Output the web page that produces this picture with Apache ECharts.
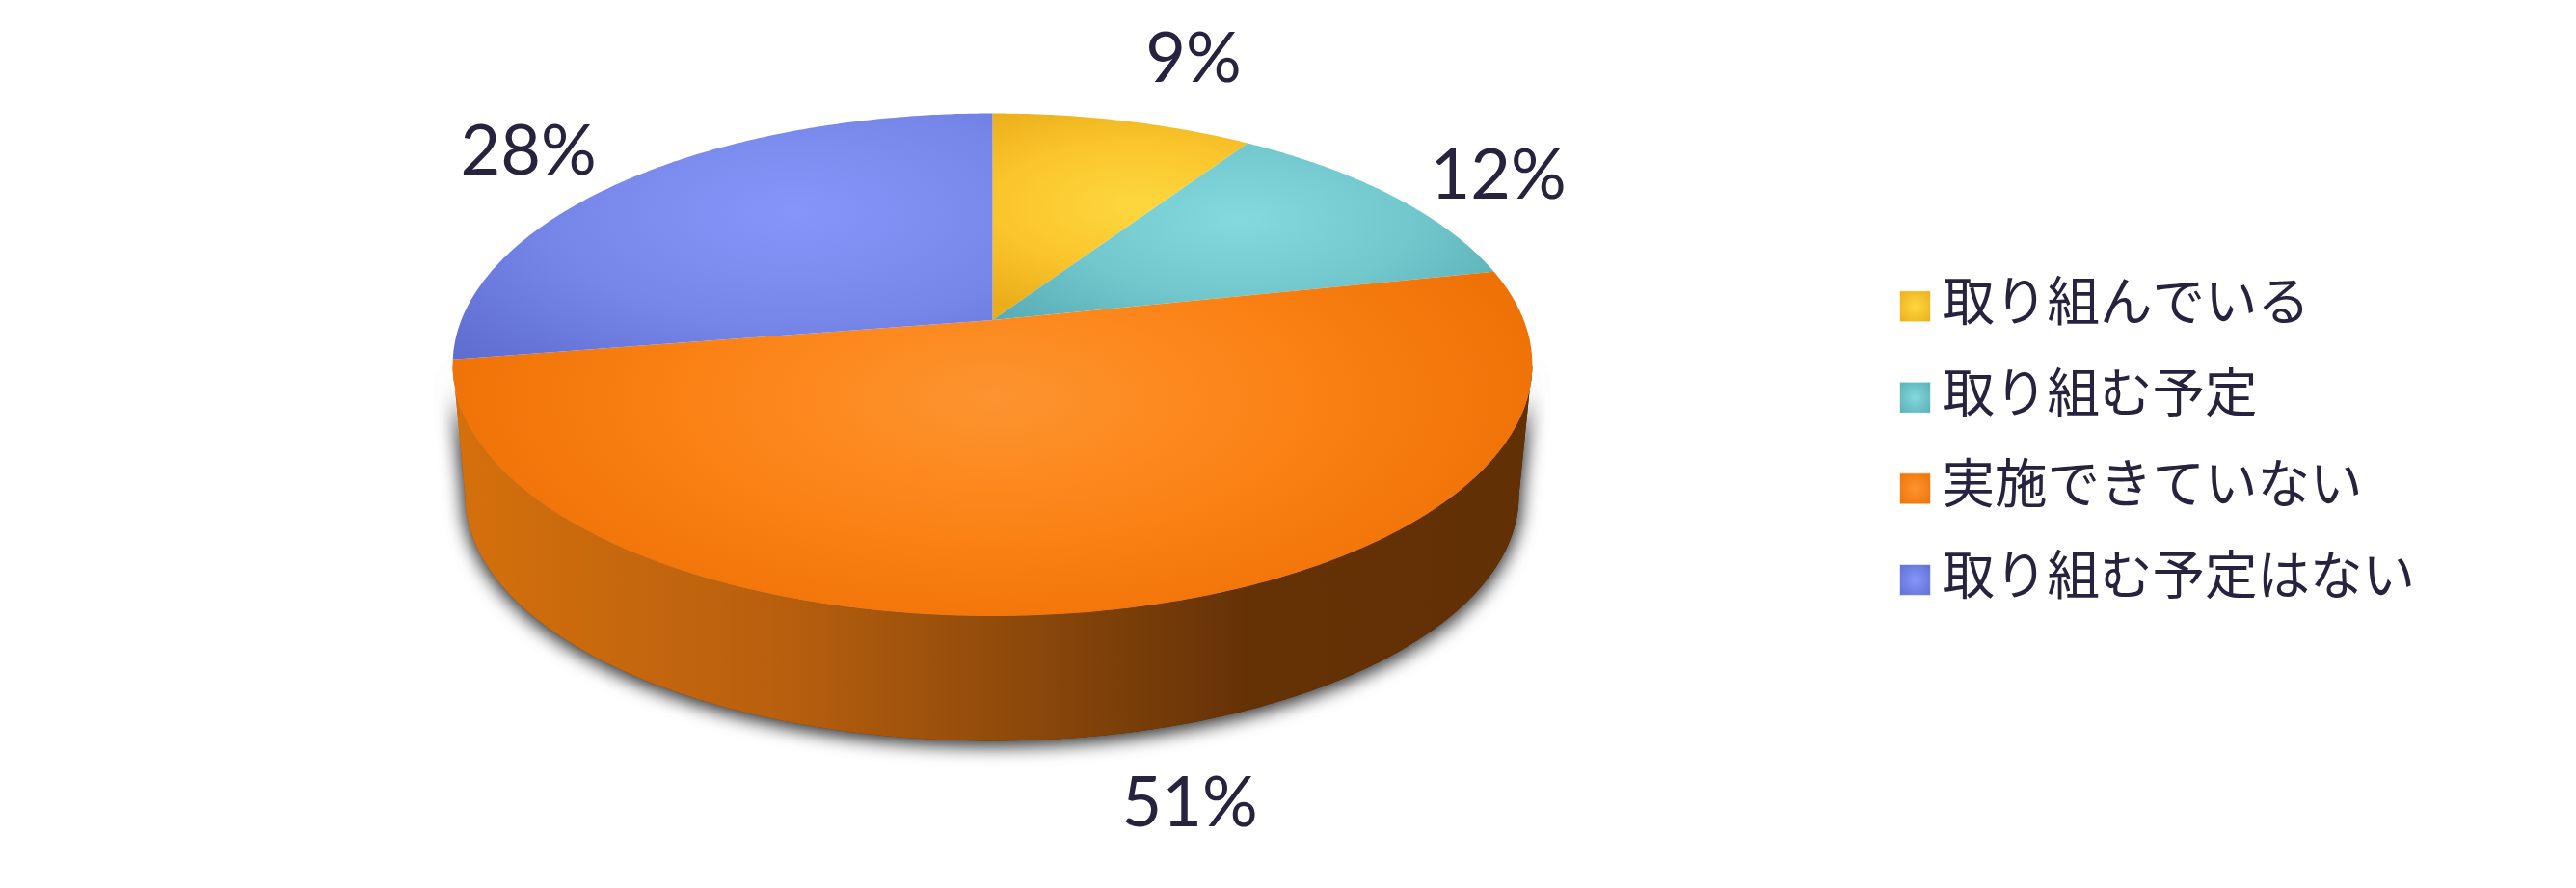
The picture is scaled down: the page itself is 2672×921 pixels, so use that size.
<!DOCTYPE html>
<html><head><meta charset="utf-8">
<style>html,body{margin:0;padding:0;background:#fff}#c{width:2672px;height:921px}</style>
<script src="https://cdn.jsdelivr.net/npm/echarts@6/dist/echarts.min.js"></script>
</head><body><div id="c"></div>
<script>
// ---- data ----
const categories = ['取り組んでいる', '取り組む予定', '実施できていない', '取り組む予定はない'];
const shares = [9.3, 12.4, 50.8, 27.5];
const shownPercents = ['9%', '12%', '51%', '28%'];

// ---- styling ----
const inkColor = '#27233f';
const topStops = [
  ['#fdd73f', '#fbc52c', '#eaae1a'],
  ['#83d9de', '#72c7cd', '#59adb4'],
  ['#fd942f', '#fb8114', '#ee7106'],
  ['#8695f9', '#7686e8', '#5f6ed0']
];
const glowCentres = [[1178, 213], [1286, 227], [1030, 413], [825, 220]];
const glowRadii = [260, 330, 590, 470];
const labelCentres = [[1238, 62], [1554, 183], [1234, 834], [548, 158]];

// ---- projection of the disc ----
const k = -0.1774, aspect = 2.2;
const topDisc = {x: 1029.5, y: 332, a: 551, b: 252.5};
const baseDisc = {x: 1029, y: 468.9, a: 537.8, b: 246.4};
function project(d, deg) {
  const t = deg * Math.PI / 180, u = Math.sin(t), v = -Math.cos(t), w = 1 + k * v;
  return [d.x + d.a * u / w, d.y + d.b * v / w];
}
function arc(d, from, to) {
  const pts = [], n = Math.max(2, Math.ceil(Math.abs(to - from) * 2));
  for (let i = 0; i <= n; i++) pts.push(project(d, from + (to - from) * i / n));
  return pts;
}
const total = shares.reduce((a, b) => a + b, 0);
const starts = shares.map((_, i) => shares.slice(0, i).reduce((a, b) => a + b, 0) / total * 360);
const silhouetteR = Math.acos(k) * 180 / Math.PI, silhouetteL = 360 - silhouetteR;

function topRender(idx) {
  return function (params, api) {
    const start = starts[idx], end = start + api.value(0) / total * 360;
    const [gx, gy] = glowCentres[idx];
    const pts = [[topDisc.x, topDisc.y], ...arc(topDisc, start, end)];
    const local = pts.map(p => [p[0] - gx, (p[1] - gy) * aspect]);
    const s = topStops[idx];
    return {
      type: 'group', children: [
        {
          type: 'polygon', x: gx, y: gy, scaleY: 1 / aspect, silent: true,
          shape: {points: local},
          style: {
            fill: new echarts.graphic.RadialGradient(0, 0, glowRadii[idx], [
              {offset: 0, color: s[0]}, {offset: 0.55, color: s[1]}, {offset: 1, color: s[2]}
            ], true)
          }
        },
        {
          type: 'text', silent: true, x: labelCentres[idx][0], y: labelCentres[idx][1],
          style: {
            text: shownPercents[idx], font: '400 72px Lato', fill: inkColor,
            align: 'center', verticalAlign: 'middle'
          }
        }
      ]
    };
  };
}
function wallRender(params, api) {
  const idx = params.dataIndex;
  const start = Math.max(starts[idx], silhouetteR);
  const end = Math.min(starts[idx] + api.value(0) / total * 360, silhouetteL);
  if (end <= start) return null;
  const pts = arc(topDisc, start, end).concat(arc(baseDisc, end, start));
  const fill = new echarts.graphic.LinearGradient(480, 0, 1578, 0, [
    {offset: 0, color: '#d4700c'}, {offset: 0.3, color: '#b85f0e'},
    {offset: 0.5, color: '#924c0b'}, {offset: 0.74, color: '#653206'},
    {offset: 1, color: '#623005'}
  ], true);
  return {
    type: 'group', children: [0, 1].map(() => ({
      type: 'polygon', silent: true, shape: {points: pts},
      style: {fill, shadowBlur: 20, shadowColor: 'rgba(0,0,0,0.6)', shadowOffsetX: 0, shadowOffsetY: 3}
    }))
  };
}
const chart = echarts.init(document.getElementById('c'));
const series = [{
  type: 'custom', name: 'side', coordinateSystem: 'none', z: 1, silent: true,
  renderItem: wallRender, data: shares.map(v => [v]), animation: false
}].concat(categories.map((name, i) => ({
  type: 'custom', name, coordinateSystem: 'none', z: 2, silent: true,
  renderItem: topRender(i), data: [[shares[i]]], animation: false,
  itemStyle: {color: topStops[i][1]}
})));
chart.setOption({
  animation: false,
  backgroundColor: '#fff',
  legend: {
    left: 1970, top: 284, orient: 'vertical', padding: 0, itemGap: 34.8,
    itemWidth: 32, itemHeight: 32, icon: 'rect', selectedMode: false,
    formatter: name => '{t|' + name + '}\n{s| }',
    textStyle: {
      fontFamily: '"Noto Sans CJK JP"', fontWeight: 400, fontSize: 54.5, color: inkColor,
      padding: [0, 0, 0, 7],
      rich: {
        t: {fontFamily: '"Noto Sans CJK JP"', fontWeight: 400, fontSize: 54.5, lineHeight: 48, color: inkColor},
        s: {fontSize: 4, lineHeight: 13}
      }
    },
    data: categories.map((name, i) => ({
      name,
      itemStyle: {
        color: new echarts.graphic.RadialGradient(0.5, 0.5, 0.7, [
          {offset: 0, color: topStops[i][0]}, {offset: 1, color: topStops[i][2]}
        ]),
        borderColor: 'rgba(255,255,255,0.6)', borderWidth: 1
      }
    }))
  },
  series
});
</script></body></html>
